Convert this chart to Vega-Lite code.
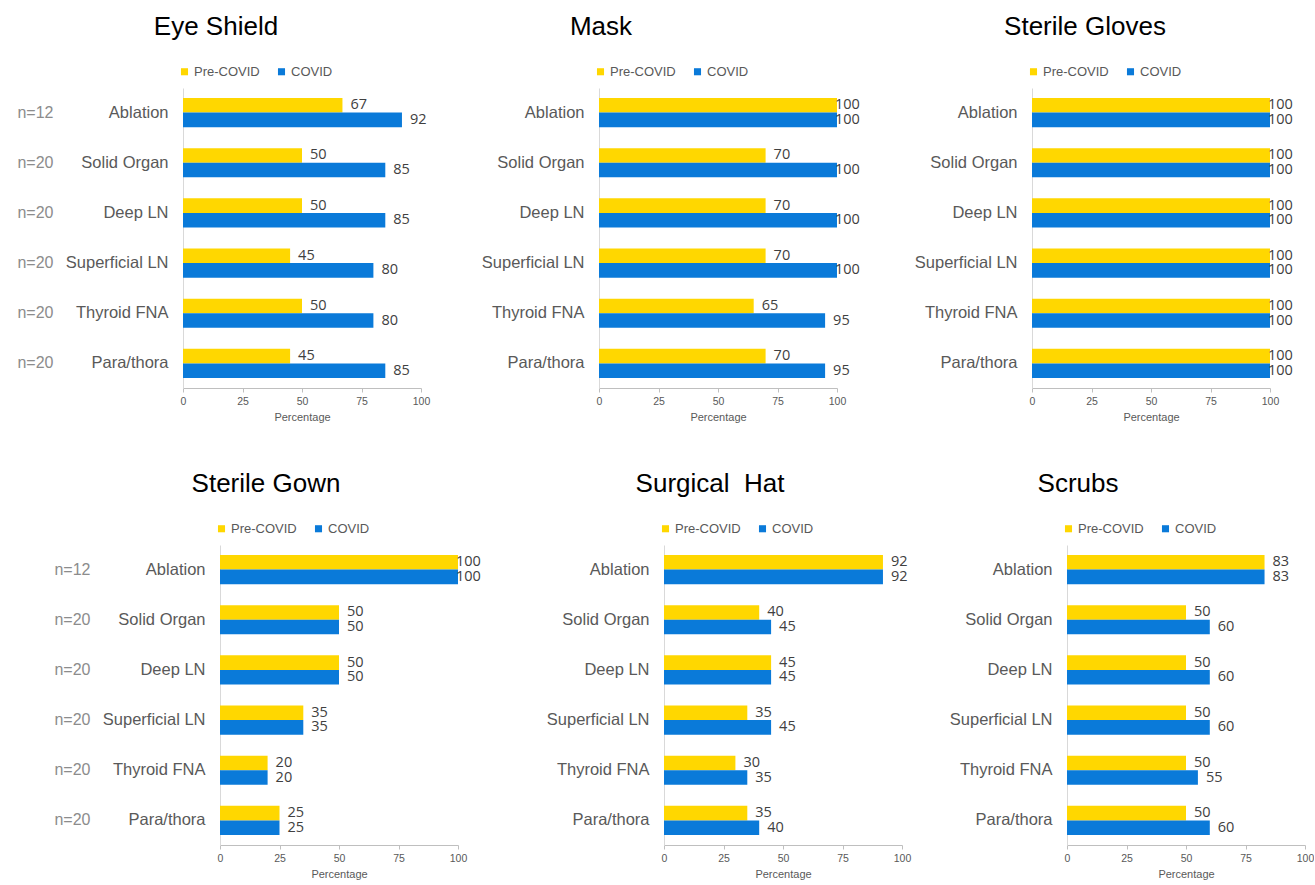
{
  "$schema": "https://vega.github.io/schema/vega-lite/v6.json",
  "background": "white",
  "padding": {"left": 15, "top": 14, "right": 0, "bottom": 0},
  "datasets": {
    "ppe": [
      {"panel": "Eye Shield", "cat": "Ablation", "period": "Pre-COVID", "value": 67},
      {"panel": "Eye Shield", "cat": "Ablation", "period": "COVID", "value": 92},
      {"panel": "Eye Shield", "cat": "Solid Organ", "period": "Pre-COVID", "value": 50},
      {"panel": "Eye Shield", "cat": "Solid Organ", "period": "COVID", "value": 85},
      {"panel": "Eye Shield", "cat": "Deep LN", "period": "Pre-COVID", "value": 50},
      {"panel": "Eye Shield", "cat": "Deep LN", "period": "COVID", "value": 85},
      {"panel": "Eye Shield", "cat": "Superficial LN", "period": "Pre-COVID", "value": 45},
      {"panel": "Eye Shield", "cat": "Superficial LN", "period": "COVID", "value": 80},
      {"panel": "Eye Shield", "cat": "Thyroid FNA", "period": "Pre-COVID", "value": 50},
      {"panel": "Eye Shield", "cat": "Thyroid FNA", "period": "COVID", "value": 80},
      {"panel": "Eye Shield", "cat": "Para/thora", "period": "Pre-COVID", "value": 45},
      {"panel": "Eye Shield", "cat": "Para/thora", "period": "COVID", "value": 85},
      {"panel": "Mask", "cat": "Ablation", "period": "Pre-COVID", "value": 100},
      {"panel": "Mask", "cat": "Ablation", "period": "COVID", "value": 100},
      {"panel": "Mask", "cat": "Solid Organ", "period": "Pre-COVID", "value": 70},
      {"panel": "Mask", "cat": "Solid Organ", "period": "COVID", "value": 100},
      {"panel": "Mask", "cat": "Deep LN", "period": "Pre-COVID", "value": 70},
      {"panel": "Mask", "cat": "Deep LN", "period": "COVID", "value": 100},
      {"panel": "Mask", "cat": "Superficial LN", "period": "Pre-COVID", "value": 70},
      {"panel": "Mask", "cat": "Superficial LN", "period": "COVID", "value": 100},
      {"panel": "Mask", "cat": "Thyroid FNA", "period": "Pre-COVID", "value": 65},
      {"panel": "Mask", "cat": "Thyroid FNA", "period": "COVID", "value": 95},
      {"panel": "Mask", "cat": "Para/thora", "period": "Pre-COVID", "value": 70},
      {"panel": "Mask", "cat": "Para/thora", "period": "COVID", "value": 95},
      {"panel": "Sterile Gloves", "cat": "Ablation", "period": "Pre-COVID", "value": 100},
      {"panel": "Sterile Gloves", "cat": "Ablation", "period": "COVID", "value": 100},
      {"panel": "Sterile Gloves", "cat": "Solid Organ", "period": "Pre-COVID", "value": 100},
      {"panel": "Sterile Gloves", "cat": "Solid Organ", "period": "COVID", "value": 100},
      {"panel": "Sterile Gloves", "cat": "Deep LN", "period": "Pre-COVID", "value": 100},
      {"panel": "Sterile Gloves", "cat": "Deep LN", "period": "COVID", "value": 100},
      {"panel": "Sterile Gloves", "cat": "Superficial LN", "period": "Pre-COVID", "value": 100},
      {"panel": "Sterile Gloves", "cat": "Superficial LN", "period": "COVID", "value": 100},
      {"panel": "Sterile Gloves", "cat": "Thyroid FNA", "period": "Pre-COVID", "value": 100},
      {"panel": "Sterile Gloves", "cat": "Thyroid FNA", "period": "COVID", "value": 100},
      {"panel": "Sterile Gloves", "cat": "Para/thora", "period": "Pre-COVID", "value": 100},
      {"panel": "Sterile Gloves", "cat": "Para/thora", "period": "COVID", "value": 100},
      {"panel": "Sterile Gown", "cat": "Ablation", "period": "Pre-COVID", "value": 100},
      {"panel": "Sterile Gown", "cat": "Ablation", "period": "COVID", "value": 100},
      {"panel": "Sterile Gown", "cat": "Solid Organ", "period": "Pre-COVID", "value": 50},
      {"panel": "Sterile Gown", "cat": "Solid Organ", "period": "COVID", "value": 50},
      {"panel": "Sterile Gown", "cat": "Deep LN", "period": "Pre-COVID", "value": 50},
      {"panel": "Sterile Gown", "cat": "Deep LN", "period": "COVID", "value": 50},
      {"panel": "Sterile Gown", "cat": "Superficial LN", "period": "Pre-COVID", "value": 35},
      {"panel": "Sterile Gown", "cat": "Superficial LN", "period": "COVID", "value": 35},
      {"panel": "Sterile Gown", "cat": "Thyroid FNA", "period": "Pre-COVID", "value": 20},
      {"panel": "Sterile Gown", "cat": "Thyroid FNA", "period": "COVID", "value": 20},
      {"panel": "Sterile Gown", "cat": "Para/thora", "period": "Pre-COVID", "value": 25},
      {"panel": "Sterile Gown", "cat": "Para/thora", "period": "COVID", "value": 25},
      {"panel": "Surgical Hat", "cat": "Ablation", "period": "Pre-COVID", "value": 92},
      {"panel": "Surgical Hat", "cat": "Ablation", "period": "COVID", "value": 92},
      {"panel": "Surgical Hat", "cat": "Solid Organ", "period": "Pre-COVID", "value": 40},
      {"panel": "Surgical Hat", "cat": "Solid Organ", "period": "COVID", "value": 45},
      {"panel": "Surgical Hat", "cat": "Deep LN", "period": "Pre-COVID", "value": 45},
      {"panel": "Surgical Hat", "cat": "Deep LN", "period": "COVID", "value": 45},
      {"panel": "Surgical Hat", "cat": "Superficial LN", "period": "Pre-COVID", "value": 35},
      {"panel": "Surgical Hat", "cat": "Superficial LN", "period": "COVID", "value": 45},
      {"panel": "Surgical Hat", "cat": "Thyroid FNA", "period": "Pre-COVID", "value": 30},
      {"panel": "Surgical Hat", "cat": "Thyroid FNA", "period": "COVID", "value": 35},
      {"panel": "Surgical Hat", "cat": "Para/thora", "period": "Pre-COVID", "value": 35},
      {"panel": "Surgical Hat", "cat": "Para/thora", "period": "COVID", "value": 40},
      {"panel": "Scrubs", "cat": "Ablation", "period": "Pre-COVID", "value": 83},
      {"panel": "Scrubs", "cat": "Ablation", "period": "COVID", "value": 83},
      {"panel": "Scrubs", "cat": "Solid Organ", "period": "Pre-COVID", "value": 50},
      {"panel": "Scrubs", "cat": "Solid Organ", "period": "COVID", "value": 60},
      {"panel": "Scrubs", "cat": "Deep LN", "period": "Pre-COVID", "value": 50},
      {"panel": "Scrubs", "cat": "Deep LN", "period": "COVID", "value": 60},
      {"panel": "Scrubs", "cat": "Superficial LN", "period": "Pre-COVID", "value": 50},
      {"panel": "Scrubs", "cat": "Superficial LN", "period": "COVID", "value": 60},
      {"panel": "Scrubs", "cat": "Thyroid FNA", "period": "Pre-COVID", "value": 50},
      {"panel": "Scrubs", "cat": "Thyroid FNA", "period": "COVID", "value": 55},
      {"panel": "Scrubs", "cat": "Para/thora", "period": "Pre-COVID", "value": 50},
      {"panel": "Scrubs", "cat": "Para/thora", "period": "COVID", "value": 60}
    ]
  },
  "data": {"name": "ppe"},
  "spacing": 48,
  "resolve": {"scale": {"color": "independent"}, "legend": {"color": "independent"}},
  "vconcat": [
    {
      "spacing": 51,
      "resolve": {"scale": {"color": "independent"}, "legend": {"color": "independent"}},
      "hconcat": [
        {
          "spacing": 0,
          "resolve": {"scale": {"color": "independent"}, "legend": {"color": "independent"}},
          "hconcat": [
            {"width": 1, "height": 5, "data": {"values": []}, "mark": "rect"},
            {
              "width": 238, "height": 300,
              "title": {"text": "Eye Shield", "dx": -86},
              "transform": [{"filter": "datum.panel == 'Eye Shield'"}],
              "encoding": {
                "y": {"field": "cat", "type": "nominal", "title": null, "sort": ["Ablation", "Solid Organ", "Deep LN", "Superficial LN", "Thyroid FNA", "Para/thora"], "scale": {"paddingInner": 0.42, "paddingOuter": 0.2}, "axis": {"orient": "left"}},
                "yOffset": {"field": "period", "type": "nominal", "sort": ["Pre-COVID", "COVID"], "scale": {"paddingInner": 0, "paddingOuter": 0}},
                "x": {"field": "value", "type": "quantitative", "title": "Percentage", "scale": {"domain": [0, 100], "nice": false}, "axis": {"values": [0, 25, 50, 75, 100]}}
              },
              "layer": [
                {"mark": "bar", "encoding": {"color": {"field": "period", "type": "nominal", "sort": ["Pre-COVID", "COVID"], "scale": {"domain": ["Pre-COVID", "COVID"], "range": ["#FFD700", "#0A7AD9"]}, "legend": {"title": null, "orient": "none", "legendX": -5, "legendY": -23, "direction": "horizontal"}}}},
                {"transform": [{"filter": "datum.value < 100"}], "mark": {"type": "text", "dx": 8},
                 "encoding": {"text": {"field": "value", "type": "quantitative"},
                   "y": {"field": "cat", "type": "nominal", "title": null, "sort": ["Ablation", "Solid Organ", "Deep LN", "Superficial LN", "Thyroid FNA", "Para/thora"], "axis": {"orient": "left", "labelExpr": "datum.value == 'Ablation' ? 'n=12' : 'n=20'", "domain": false, "offset": 128, "labelPadding": 2, "labelFontSize": 16, "labelColor": "#8C8C8C"}}}},
                {"transform": [{"filter": "datum.value >= 100"}], "mark": {"type": "text", "dx": -2},
                 "encoding": {"text": {"field": "value", "type": "quantitative"},
                   "y": {"field": "cat", "type": "nominal", "title": null, "sort": ["Ablation", "Solid Organ", "Deep LN", "Superficial LN", "Thyroid FNA", "Para/thora"], "axis": null}}}
              ],
              "resolve": {"axis": {"y": "independent"}}
            }
          ]
        },
        {
          "spacing": 54,
          "resolve": {"scale": {"color": "independent"}, "legend": {"color": "independent"}},
          "hconcat": [
            {
              "width": 238, "height": 300,
              "title": {"text": "Mask", "dx": -117},
              "transform": [{"filter": "datum.panel == 'Mask'"}],
              "encoding": {
                "y": {"field": "cat", "type": "nominal", "title": null, "sort": ["Ablation", "Solid Organ", "Deep LN", "Superficial LN", "Thyroid FNA", "Para/thora"], "scale": {"paddingInner": 0.42, "paddingOuter": 0.2}},
                "yOffset": {"field": "period", "type": "nominal", "sort": ["Pre-COVID", "COVID"], "scale": {"paddingInner": 0, "paddingOuter": 0}},
                "x": {"field": "value", "type": "quantitative", "title": "Percentage", "scale": {"domain": [0, 100], "nice": false}, "axis": {"values": [0, 25, 50, 75, 100]}}
              },
              "layer": [
                {"mark": "bar", "encoding": {"color": {"field": "period", "type": "nominal", "sort": ["Pre-COVID", "COVID"], "scale": {"domain": ["Pre-COVID", "COVID"], "range": ["#FFD700", "#0A7AD9"]}, "legend": {"title": null, "orient": "none", "legendX": -5, "legendY": -23, "direction": "horizontal"}}}},
                {"transform": [{"filter": "datum.value < 100"}], "mark": {"type": "text", "dx": 8}, "encoding": {"text": {"field": "value", "type": "quantitative"}}},
                {"transform": [{"filter": "datum.value >= 100"}], "mark": {"type": "text", "dx": -2}, "encoding": {"text": {"field": "value", "type": "quantitative"}}}
              ]
            },
            {
              "width": 238, "height": 300,
              "title": {"text": "Sterile Gloves", "dx": -66},
              "transform": [{"filter": "datum.panel == 'Sterile Gloves'"}],
              "encoding": {
                "y": {"field": "cat", "type": "nominal", "title": null, "sort": ["Ablation", "Solid Organ", "Deep LN", "Superficial LN", "Thyroid FNA", "Para/thora"], "scale": {"paddingInner": 0.42, "paddingOuter": 0.2}},
                "yOffset": {"field": "period", "type": "nominal", "sort": ["Pre-COVID", "COVID"], "scale": {"paddingInner": 0, "paddingOuter": 0}},
                "x": {"field": "value", "type": "quantitative", "title": "Percentage", "scale": {"domain": [0, 100], "nice": false}, "axis": {"values": [0, 25, 50, 75, 100]}}
              },
              "layer": [
                {"mark": "bar", "encoding": {"color": {"field": "period", "type": "nominal", "sort": ["Pre-COVID", "COVID"], "scale": {"domain": ["Pre-COVID", "COVID"], "range": ["#FFD700", "#0A7AD9"]}, "legend": {"title": null, "orient": "none", "legendX": -5, "legendY": -23, "direction": "horizontal"}}}},
                {"transform": [{"filter": "datum.value < 100"}], "mark": {"type": "text", "dx": 8}, "encoding": {"text": {"field": "value", "type": "quantitative"}}},
                {"transform": [{"filter": "datum.value >= 100"}], "mark": {"type": "text", "dx": -2}, "encoding": {"text": {"field": "value", "type": "quantitative"}}}
              ]
            }
          ]
        }
      ]
    },
    {
      "spacing": 65,
      "resolve": {"scale": {"color": "independent"}, "legend": {"color": "independent"}},
      "hconcat": [
        {
          "spacing": 37,
          "resolve": {"scale": {"color": "independent"}, "legend": {"color": "independent"}},
          "hconcat": [
            {"width": 1, "height": 5, "data": {"values": []}, "mark": "rect"},
            {
              "width": 238, "height": 300,
              "title": {"text": "Sterile Gown", "dx": -73},
              "transform": [{"filter": "datum.panel == 'Sterile Gown'"}],
              "encoding": {
                "y": {"field": "cat", "type": "nominal", "title": null, "sort": ["Ablation", "Solid Organ", "Deep LN", "Superficial LN", "Thyroid FNA", "Para/thora"], "scale": {"paddingInner": 0.42, "paddingOuter": 0.2}, "axis": {"orient": "left"}},
                "yOffset": {"field": "period", "type": "nominal", "sort": ["Pre-COVID", "COVID"], "scale": {"paddingInner": 0, "paddingOuter": 0}},
                "x": {"field": "value", "type": "quantitative", "title": "Percentage", "scale": {"domain": [0, 100], "nice": false}, "axis": {"values": [0, 25, 50, 75, 100]}}
              },
              "layer": [
                {"mark": "bar", "encoding": {"color": {"field": "period", "type": "nominal", "sort": ["Pre-COVID", "COVID"], "scale": {"domain": ["Pre-COVID", "COVID"], "range": ["#FFD700", "#0A7AD9"]}, "legend": {"title": null, "orient": "none", "legendX": -5, "legendY": -23, "direction": "horizontal"}}}},
                {"transform": [{"filter": "datum.value < 100"}], "mark": {"type": "text", "dx": 8},
                 "encoding": {"text": {"field": "value", "type": "quantitative"},
                   "y": {"field": "cat", "type": "nominal", "title": null, "sort": ["Ablation", "Solid Organ", "Deep LN", "Superficial LN", "Thyroid FNA", "Para/thora"], "axis": {"orient": "left", "labelExpr": "datum.value == 'Ablation' ? 'n=12' : 'n=20'", "domain": false, "offset": 128, "labelPadding": 2, "labelFontSize": 16, "labelColor": "#8C8C8C"}}}},
                {"transform": [{"filter": "datum.value >= 100"}], "mark": {"type": "text", "dx": -2},
                 "encoding": {"text": {"field": "value", "type": "quantitative"},
                   "y": {"field": "cat", "type": "nominal", "title": null, "sort": ["Ablation", "Solid Organ", "Deep LN", "Superficial LN", "Thyroid FNA", "Para/thora"], "axis": null}}}
              ],
              "resolve": {"axis": {"y": "independent"}}
            }
          ]
        },
        {
          "spacing": 38,
          "resolve": {"scale": {"color": "independent"}, "legend": {"color": "independent"}},
          "hconcat": [
            {
              "width": 238, "height": 300,
              "title": {"text": "Surgical \u00a0Hat", "dx": -73},
              "transform": [{"filter": "datum.panel == 'Surgical Hat'"}],
              "encoding": {
                "y": {"field": "cat", "type": "nominal", "title": null, "sort": ["Ablation", "Solid Organ", "Deep LN", "Superficial LN", "Thyroid FNA", "Para/thora"], "scale": {"paddingInner": 0.42, "paddingOuter": 0.2}},
                "yOffset": {"field": "period", "type": "nominal", "sort": ["Pre-COVID", "COVID"], "scale": {"paddingInner": 0, "paddingOuter": 0}},
                "x": {"field": "value", "type": "quantitative", "title": "Percentage", "scale": {"domain": [0, 100], "nice": false}, "axis": {"values": [0, 25, 50, 75, 100]}}
              },
              "layer": [
                {"mark": "bar", "encoding": {"color": {"field": "period", "type": "nominal", "sort": ["Pre-COVID", "COVID"], "scale": {"domain": ["Pre-COVID", "COVID"], "range": ["#FFD700", "#0A7AD9"]}, "legend": {"title": null, "orient": "none", "legendX": -5, "legendY": -23, "direction": "horizontal"}}}},
                {"transform": [{"filter": "datum.value < 100"}], "mark": {"type": "text", "dx": 8}, "encoding": {"text": {"field": "value", "type": "quantitative"}}},
                {"transform": [{"filter": "datum.value >= 100"}], "mark": {"type": "text", "dx": -2}, "encoding": {"text": {"field": "value", "type": "quantitative"}}}
              ]
            },
            {
              "width": 238, "height": 300,
              "title": {"text": "Scrubs", "dx": -108},
              "transform": [{"filter": "datum.panel == 'Scrubs'"}],
              "encoding": {
                "y": {"field": "cat", "type": "nominal", "title": null, "sort": ["Ablation", "Solid Organ", "Deep LN", "Superficial LN", "Thyroid FNA", "Para/thora"], "scale": {"paddingInner": 0.42, "paddingOuter": 0.2}},
                "yOffset": {"field": "period", "type": "nominal", "sort": ["Pre-COVID", "COVID"], "scale": {"paddingInner": 0, "paddingOuter": 0}},
                "x": {"field": "value", "type": "quantitative", "title": "Percentage", "scale": {"domain": [0, 100], "nice": false}, "axis": {"values": [0, 25, 50, 75, 100]}}
              },
              "layer": [
                {"mark": "bar", "encoding": {"color": {"field": "period", "type": "nominal", "sort": ["Pre-COVID", "COVID"], "scale": {"domain": ["Pre-COVID", "COVID"], "range": ["#FFD700", "#0A7AD9"]}, "legend": {"title": null, "orient": "none", "legendX": -5, "legendY": -23, "direction": "horizontal"}}}},
                {"transform": [{"filter": "datum.value < 100"}], "mark": {"type": "text", "dx": 8}, "encoding": {"text": {"field": "value", "type": "quantitative"}}},
                {"transform": [{"filter": "datum.value >= 100"}], "mark": {"type": "text", "dx": -2}, "encoding": {"text": {"field": "value", "type": "quantitative"}}}
              ]
            }
          ]
        }
      ]
    }
  ],
  "config": {
    "view": {"stroke": null},
    "font": "Liberation Sans",
    "title": {"fontSize": 26, "font": "Liberation Sans", "fontWeight": "normal", "color": "#000000", "anchor": "middle", "frame": "group", "offset": 25},
    "axisY": {"ticks": false, "grid": false, "domainColor": "#D9D9D9", "labelFontSize": 16.5, "labelColor": "#595959", "labelPadding": 15, "labelFont": "Liberation Sans"},
    "axisX": {"grid": false, "domainColor": "#BFBFBF", "tickColor": "#BFBFBF", "tickSize": 4, "labelFontSize": 10.5, "labelColor": "#595959", "labelPadding": 4, "labelFlush": false, "titleFontSize": 11, "titleFontWeight": "normal", "titleColor": "#595959", "titlePadding": 5, "labelFont": "Liberation Sans", "titleFont": "Liberation Sans"},
    "legend": {"symbolType": "square", "symbolSize": 50, "symbolStrokeWidth": 0, "labelFontSize": 13, "labelColor": "#595959", "labelFont": "Liberation Sans", "columnPadding": 15, "labelOffset": 3, "padding": 0},
    "text": {"fontSize": 14.5, "font": "Open Sans", "color": "#404040", "align": "left", "baseline": "middle"}
  }
}
